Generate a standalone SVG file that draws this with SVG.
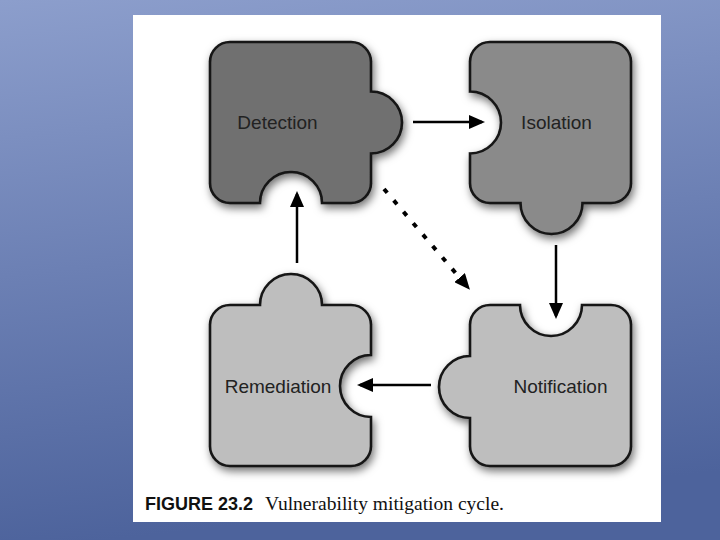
<svg xmlns="http://www.w3.org/2000/svg" width="720" height="540" viewBox="0 0 720 540">
<defs>
  <linearGradient id="bg" x1="0" y1="0" x2="0.15" y2="1">
    <stop offset="0" stop-color="#8c9ecc"/>
    <stop offset="0.5" stop-color="#6c80b4"/>
    <stop offset="1" stop-color="#4d639c"/>
  </linearGradient>
  <filter id="shadow" x="-20%" y="-20%" width="150%" height="150%">
    <feDropShadow dx="2" dy="4" stdDeviation="4" flood-color="#000" flood-opacity="0.55"/>
  </filter>
  <marker id="arrow" viewBox="0 0 16 14" refX="13" refY="7" markerWidth="16" markerHeight="14" markerUnits="userSpaceOnUse" orient="auto">
    <path d="M0,0 L16,7 L0,14 Z" fill="#000"/>
  </marker>
  <style>
    .piece { stroke: #151515; stroke-width: 2.6; filter: url(#shadow); }
    .dark { fill: #6f6f6f; }
    .mid { fill: #8a8a8a; }
    .light { fill: #bebebe; }
    .label { font-family: "Liberation Sans", Arial, sans-serif; font-size: 19px; fill: #222; text-anchor: middle; }
    .conn { stroke: #000; stroke-width: 2.5; fill: none; marker-end: url(#arrow); }
    .dotted { stroke-width: 4; stroke-dasharray: 5 10; }
  </style>
</defs>
<rect x="0" y="0" width="720" height="540" fill="url(#bg)"/>
<rect x="133" y="15" width="528" height="507" fill="#ffffff"/>

<g id="detection">
  <path class="piece dark" d="M230,42 H351 A20,20 0 0 1 371,62 V91.5 A31,31 0 0 1 371,153.5 V183 A20,20 0 0 1 351,203 H322 A31,31 0 0 0 260,203 H230 A20,20 0 0 1 210,183 V62 A20,20 0 0 1 230,42 Z"/>
  <text class="label" x="277.5" y="129">Detection</text>
</g>
<g id="isolation">
  <path class="piece mid" d="M490,42 H611 A20,20 0 0 1 631,62 V183 A20,20 0 0 1 611,203 H582.5 A31,31 0 0 1 520.5,203 H490 A20,20 0 0 1 470,183 V153.5 A31,31 0 0 0 470,91.5 V62 A20,20 0 0 1 490,42 Z"/>
  <text class="label" x="556.5" y="129">Isolation</text>
</g>
<g id="remediation">
  <path class="piece light" d="M230,305 H260 A31,31 0 0 1 322,305 H351 A20,20 0 0 1 371,325 V355 A31,31 0 0 0 371,417 V446 A20,20 0 0 1 351,466 H230 A20,20 0 0 1 210,446 V325 A20,20 0 0 1 230,305 Z"/>
  <text class="label" x="278" y="393">Remediation</text>
</g>
<g id="notification">
  <path class="piece light" d="M490,305 H520 A31,31 0 0 0 582,305 H611 A20,20 0 0 1 631,325 V446 A20,20 0 0 1 611,466 H490 A20,20 0 0 1 470,446 V418 A31,31 0 0 1 470,356 V325 A20,20 0 0 1 490,305 Z"/>
  <text class="label" x="560.5" y="393">Notification</text>
</g>

<g id="connectors">
  <line class="conn" x1="413" y1="122" x2="482" y2="122"/>
  <line class="conn" x1="556" y1="245" x2="556" y2="316"/>
  <line class="conn" x1="431" y1="385" x2="360" y2="385"/>
  <line class="conn" x1="297" y1="263" x2="297" y2="194"/>
  <line class="conn dotted" x1="384" y1="189" x2="468" y2="287.5"/>
</g>

<g id="caption">
  <text x="145" y="510" font-family="'Liberation Sans', Arial, sans-serif" font-weight="bold" font-size="18" fill="#111" textLength="108" lengthAdjust="spacingAndGlyphs">FIGURE 23.2</text>
  <text x="265" y="510" font-family="'Liberation Serif', 'Times New Roman', serif" font-size="19.5" fill="#111" textLength="239" lengthAdjust="spacingAndGlyphs">Vulnerability mitigation cycle.</text>
</g>
</svg>
